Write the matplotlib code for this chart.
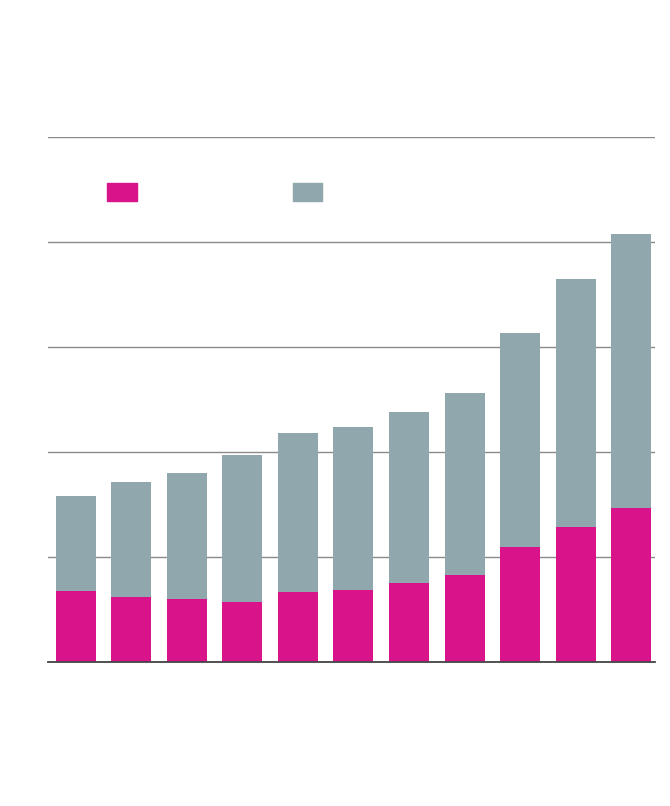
import matplotlib
matplotlib.use("Agg")
import matplotlib.pyplot as plt
from matplotlib.patches import Rectangle
import numpy as np

# Data (one gridline step = 10 units)
categories = ["1", "2", "3", "4", "5", "6", "7", "8", "9", "10", "11"]
series_pink = [6.73, 6.16, 6.00, 5.71, 6.70, 6.86, 7.50, 8.31, 10.92, 12.89, 14.64]
series_grey = [9.05, 10.95, 12.00, 14.00, 15.14, 15.49, 16.28, 17.34, 20.38, 23.62, 26.15]
y_ticks = [0, 10, 20, 30, 40, 50]

PINK = "#D9138A"
GREY = "#90A8AD"

fig = plt.figure(figsize=(6.7, 8.06), dpi=100)
ax = fig.add_axes([48 / 670, 1 - 662 / 806, (655 - 48) / 670, (662 - 137) / 806])

x = np.arange(len(categories))
ax.bar(x, series_pink, width=0.72, color=PINK, zorder=2)
ax.bar(x, series_grey, width=0.72, bottom=series_pink, color=GREY, zorder=2)

ax.set_xlim(-0.5, len(categories) - 1 + 0.43)
ax.set_ylim(0, 50)
ax.set_yticks(y_ticks)
ax.set_xticks([])
ax.tick_params(left=False, labelleft=False, bottom=False, labelbottom=False)
ax.grid(axis="y", color="#8a8a8a", linewidth=1.0, zorder=0)
ax.set_axisbelow(True)
for s in ["left", "right", "top"]:
    ax.spines[s].set_visible(False)
ax.spines["bottom"].set_color("#444444")
ax.spines["bottom"].set_linewidth(1.3)
ax.spines["bottom"].set_zorder(3)

# legend swatches (labels not shown in reference)
fig.patches.append(Rectangle((107 / 670, 1 - 201 / 806), 30 / 670, 18 / 806,
                             transform=fig.transFigure, color=PINK, figure=fig))
fig.patches.append(Rectangle((293 / 670, 1 - 201 / 806), 29 / 670, 18 / 806,
                             transform=fig.transFigure, color=GREY, figure=fig))

fig.savefig("out.png", dpi=100, facecolor="white")
